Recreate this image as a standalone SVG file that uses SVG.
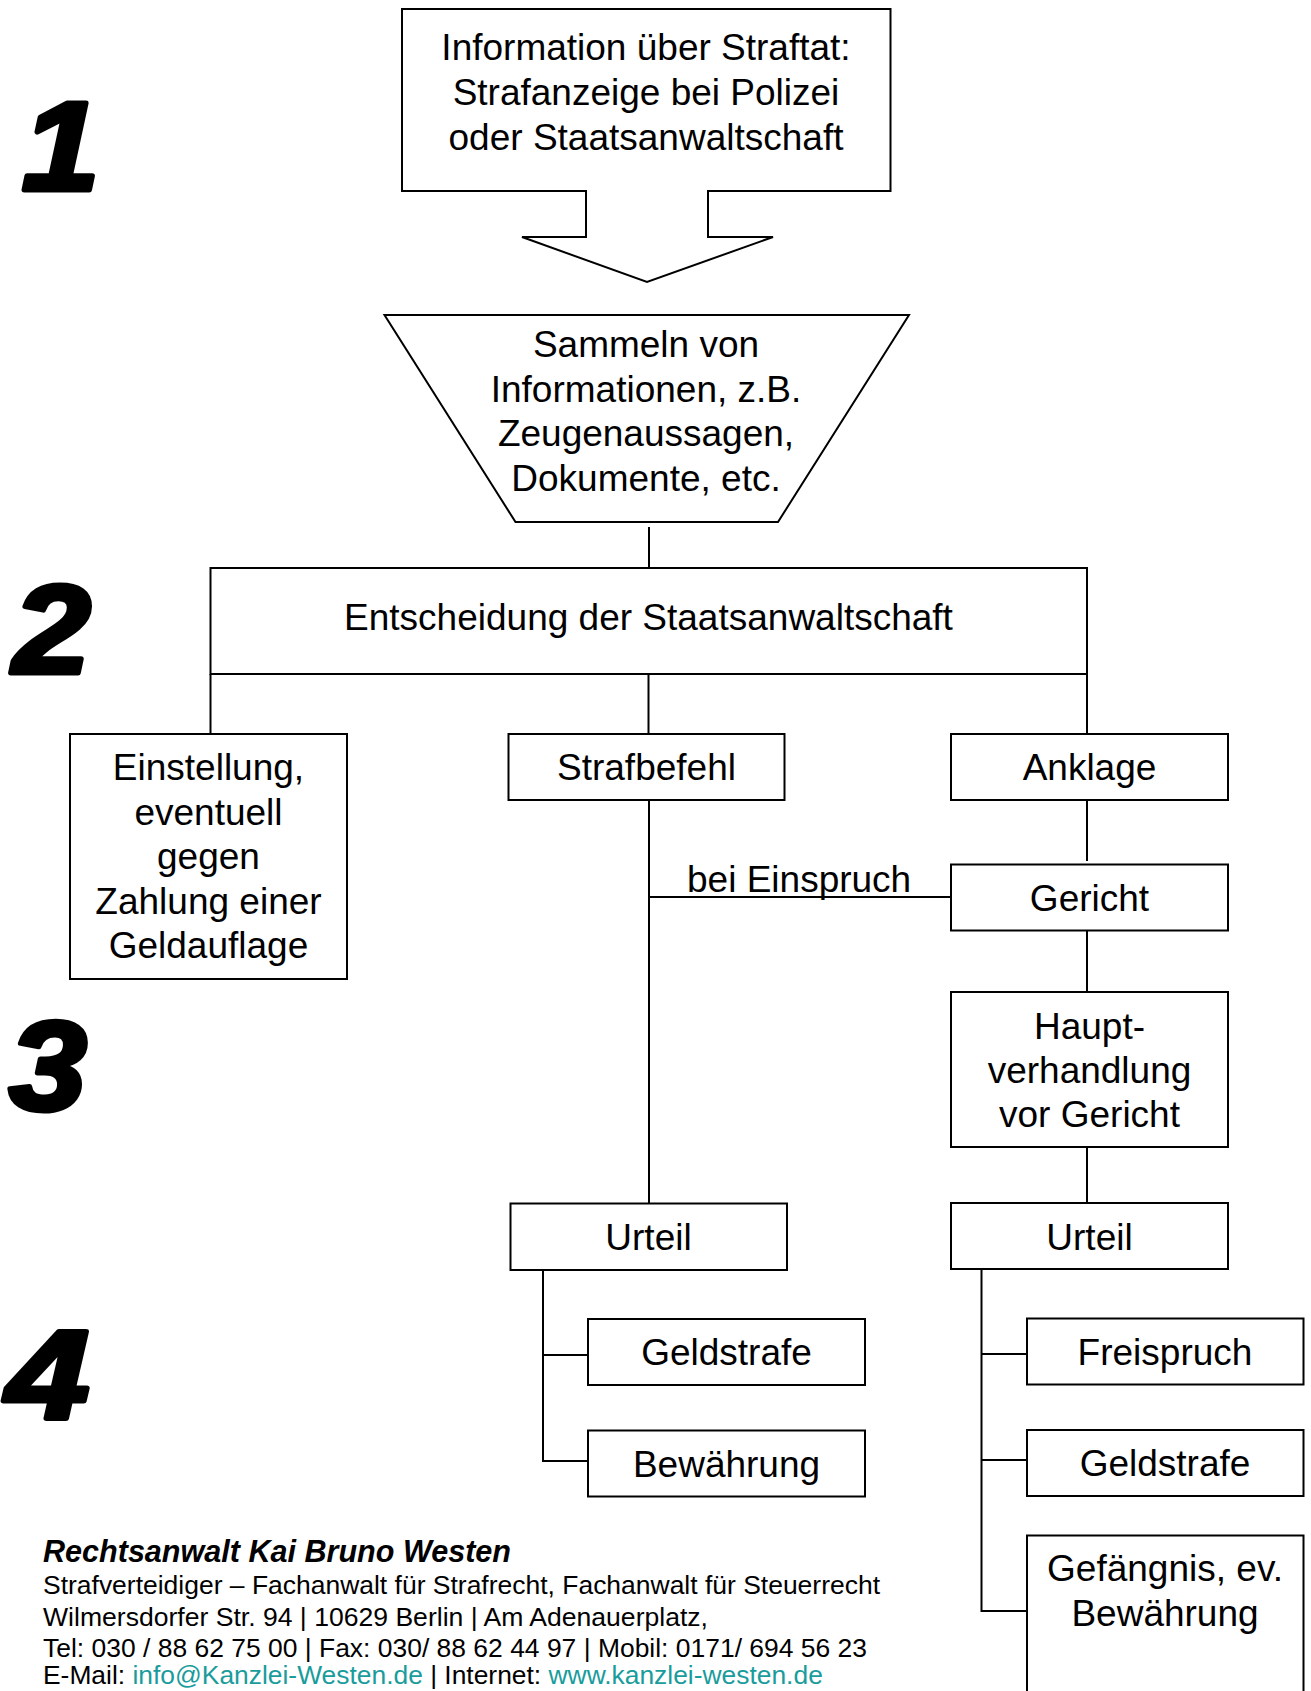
<svg xmlns="http://www.w3.org/2000/svg" width="1311" height="1691" viewBox="0 0 1311 1691">
<style>
.box{fill:#fff;stroke:#000;stroke-width:2}
.ln{fill:none;stroke:#000;stroke-width:2}
.t{font-family:"Liberation Sans",Arial,sans-serif;font-size:37px;fill:#000;text-anchor:middle}
.num{font-family:"Liberation Sans",Arial,sans-serif;font-size:127px;font-weight:bold;font-style:italic;fill:#000;stroke:#000;stroke-width:5;stroke-linejoin:round}
.ft{font-family:"Liberation Sans",Arial,sans-serif;font-size:26.4px;fill:#000}
.fb{font-family:"Liberation Sans",Arial,sans-serif;font-size:30.5px;font-weight:bold;font-style:italic;fill:#000}
.lk{fill:#1a9c9c}
</style>
<rect width="1311" height="1691" fill="#fff"/>

<g id="steps">
<text class="num" transform="translate(22,190) scale(1.1,1)">1</text>
<text class="num" transform="translate(13,673) scale(1.1,1)">2</text>
<text class="num" transform="translate(9,1110) scale(1.1,1)">3</text>
<text class="num" transform="translate(6,1419) scale(1.18,1)">4</text>
</g>

<g id="connectors">
<line class="ln" x1="649" y1="527" x2="649" y2="568"/>
<line class="ln" x1="210.5" y1="674" x2="210.5" y2="734"/>
<line class="ln" x1="648.5" y1="674" x2="648.5" y2="734"/>
<line class="ln" x1="1087" y1="674" x2="1087" y2="734"/>
<line class="ln" x1="649" y1="800" x2="649" y2="1203"/>
<line class="ln" x1="649" y1="897" x2="951" y2="897"/>
<line class="ln" x1="1087" y1="800" x2="1087" y2="861"/>
<line class="ln" x1="1087" y1="931" x2="1087" y2="992"/>
<line class="ln" x1="1087" y1="1147" x2="1087" y2="1203"/>
<polyline class="ln" points="543,1270 543,1461 588,1461"/>
<line class="ln" x1="543" y1="1355" x2="588" y2="1355"/>
<polyline class="ln" points="981.5,1268 981.5,1611 1027,1611"/>
<line class="ln" x1="981.5" y1="1354" x2="1027" y2="1354"/>
<line class="ln" x1="981.5" y1="1460" x2="1027" y2="1460"/>
<text class="t" x="687" y="892" style="text-anchor:start">bei Einspruch</text>
</g>

<g id="n-info">
<path class="box" d="M402,9 H890.5 V191 H708 V237 H773 L647,282 L522,237 H586 V191 H402 Z"/>
<text class="t" x="646" y="60">Information über Straftat:</text>
<text class="t" x="646" y="105">Strafanzeige bei Polizei</text>
<text class="t" x="646" y="149.5">oder Staatsanwaltschaft</text>
</g>

<g id="n-sammeln">
<polygon class="box" points="384.5,315 909,315 778,522 515.5,522"/>
<text class="t" x="646" y="357">Sammeln von</text>
<text class="t" x="646" y="401.5">Informationen, z.B.</text>
<text class="t" x="646" y="446">Zeugenaussagen,</text>
<text class="t" x="646" y="490.5">Dokumente, etc.</text>
</g>

<g id="n-entscheidung">
<rect class="box" x="210.5" y="568" width="876.5" height="106"/>
<text class="t" x="648.5" y="630">Entscheidung der Staatsanwaltschaft</text>
</g>

<g id="n-einstellung">
<rect class="box" x="70" y="734" width="277" height="245"/>
<text class="t" x="208.5" y="780">Einstellung,</text>
<text class="t" x="208.5" y="824.5">eventuell</text>
<text class="t" x="208.5" y="869">gegen</text>
<text class="t" x="208.5" y="913.5">Zahlung einer</text>
<text class="t" x="208.5" y="958">Geldauflage</text>
</g>

<g id="n-strafbefehl">
<rect class="box" x="508.5" y="734" width="276" height="66"/>
<text class="t" x="646.5" y="780">Strafbefehl</text>
</g>

<g id="n-anklage">
<rect class="box" x="951" y="734" width="277" height="66"/>
<text class="t" x="1089.5" y="780">Anklage</text>
</g>

<g id="n-gericht">
<rect class="box" x="951" y="864.5" width="277" height="66"/>
<text class="t" x="1089.5" y="911">Gericht</text>
</g>

<g id="n-haupt">
<rect class="box" x="951" y="992" width="277" height="155"/>
<text class="t" x="1089.5" y="1039">Haupt-</text>
<text class="t" x="1089.5" y="1083">verhandlung</text>
<text class="t" x="1089.5" y="1127">vor Gericht</text>
</g>

<g id="n-urteil-l">
<rect class="box" x="510.5" y="1203.5" width="276.5" height="66.5"/>
<text class="t" x="648.5" y="1250">Urteil</text>
</g>

<g id="n-urteil-r">
<rect class="box" x="951" y="1203" width="277" height="66"/>
<text class="t" x="1089.5" y="1250">Urteil</text>
</g>

<g id="n-geldstrafe-l">
<rect class="box" x="588" y="1319" width="277" height="66"/>
<text class="t" x="726.5" y="1365">Geldstrafe</text>
</g>

<g id="n-bewaehrung-l">
<rect class="box" x="588" y="1430.5" width="277" height="66"/>
<text class="t" x="726.5" y="1477">Bewährung</text>
</g>

<g id="n-freispruch">
<rect class="box" x="1027" y="1318.5" width="276.5" height="66"/>
<text class="t" x="1165" y="1364.5">Freispruch</text>
</g>

<g id="n-geldstrafe-r">
<rect class="box" x="1027" y="1430" width="276.5" height="66"/>
<text class="t" x="1165" y="1476">Geldstrafe</text>
</g>

<g id="n-gefaengnis">
<rect class="box" x="1027" y="1535.5" width="276.5" height="160"/>
<text class="t" x="1165" y="1581">Gefängnis, ev.</text>
<text class="t" x="1165" y="1626">Bewährung</text>
</g>

<g id="footer">
<text class="fb" x="43" y="1562" textLength="468" lengthAdjust="spacingAndGlyphs">Rechtsanwalt Kai Bruno Westen</text>
<text class="ft" x="43" y="1594" textLength="837" lengthAdjust="spacingAndGlyphs">Strafverteidiger – Fachanwalt für Strafrecht, Fachanwalt für Steuerrecht</text>
<text class="ft" x="43" y="1626" textLength="665" lengthAdjust="spacingAndGlyphs">Wilmersdorfer Str. 94 | 10629 Berlin | Am Adenauerplatz,</text>
<text class="ft" x="43" y="1657" textLength="824" lengthAdjust="spacingAndGlyphs">Tel: 030 / 88 62 75 00 | Fax: 030/ 88 62 44 97 | Mobil: 0171/ 694 56 23</text>
<text class="ft" x="43" y="1684">E-Mail: <tspan class="lk">info@Kanzlei-Westen.de</tspan> | Internet: <tspan class="lk">www.kanzlei-westen.de</tspan></text>
</g>
</svg>
